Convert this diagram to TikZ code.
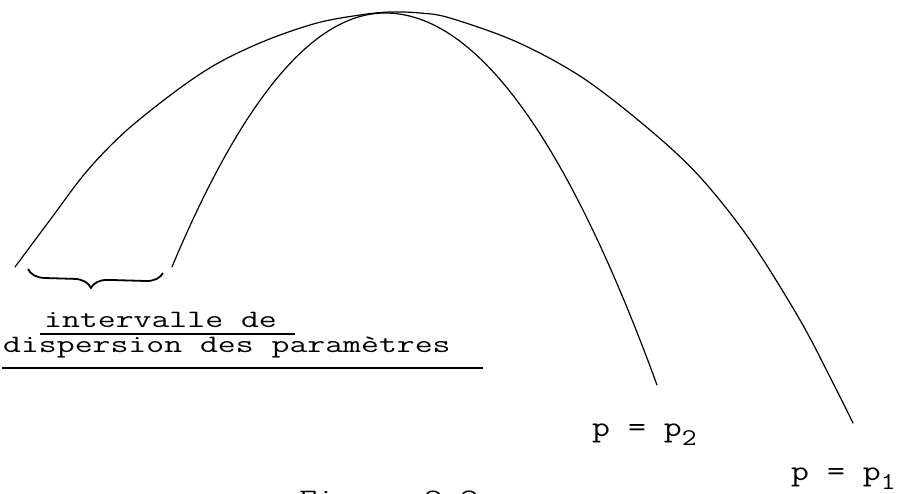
\documentclass[tikz,border=0pt]{standalone}
\usepackage{fontspec}
\usetikzlibrary{decorations.pathreplacing}
\begin{document}
\begin{tikzpicture}[x=1pt,y=-1pt,
  curve/.style={line width=1.2pt, line cap=round, line join=round},
  txt/.style={inner sep=0pt, anchor=base west, font=\ttfamily\fontsize{25}{28}\selectfont},
  plbl/.style={inner sep=0pt, anchor=base west, font=\ttfamily\fontsize{29}{32}\selectfont},
  uline/.style={line width=1.4pt}]
\useasboundingbox (0,0) rectangle (901,493);
\clip (0,0) rectangle (901,493);
% outer curve p = p1
\draw[curve] plot[smooth, tension=0.55] coordinates {(15,267) (50,220) (87,171) (127,130) (180,88) (220,62) (267,40) (317,23) (360,15) (390,12) (420,13) (450,18) (517,42) (583,78) (650,130) (700,177) (750,240) (800,320) (833,383) (853,423)};
% inner curve p = p2
\draw[curve] plot[domain=172:385, samples=60] (\x, {13+((\x-385)*0.0748)^2})
  -- plot[domain=385:657, samples=60] (\x, {13+((\x-385)*0.0709)^2});
% brace
\draw[line width=1.8pt, decorate, decoration={brace, mirror, amplitude=17pt, aspect=0.47}] (28,269) -- (163,273);
% labels
\node[txt] (l1) at (44,327) {\scalebox{1.39}[1]{intervalle de}};
\node[txt] (l2) at (3,352) {\scalebox{1.39}[1]{dispersion des paramètres}};
\draw[uline] (40,334) -- (295,334);
\draw[uline] (2,368) -- (483,368);
\node[plbl] (p2) at (592,436) {\scalebox{1.2}[1]{p = p\raisebox{-9pt}{\fontsize{24}{24}\selectfont 2}}};
\node[plbl] (p1) at (791,480) {\scalebox{1.2}[1]{p = p\raisebox{-9pt}{\fontsize{24}{24}\selectfont 1}}};
\node[txt] (fig) at (299,506) {\scalebox{1.39}[1]{Figure 2.2}};
\end{tikzpicture}
\end{document}
